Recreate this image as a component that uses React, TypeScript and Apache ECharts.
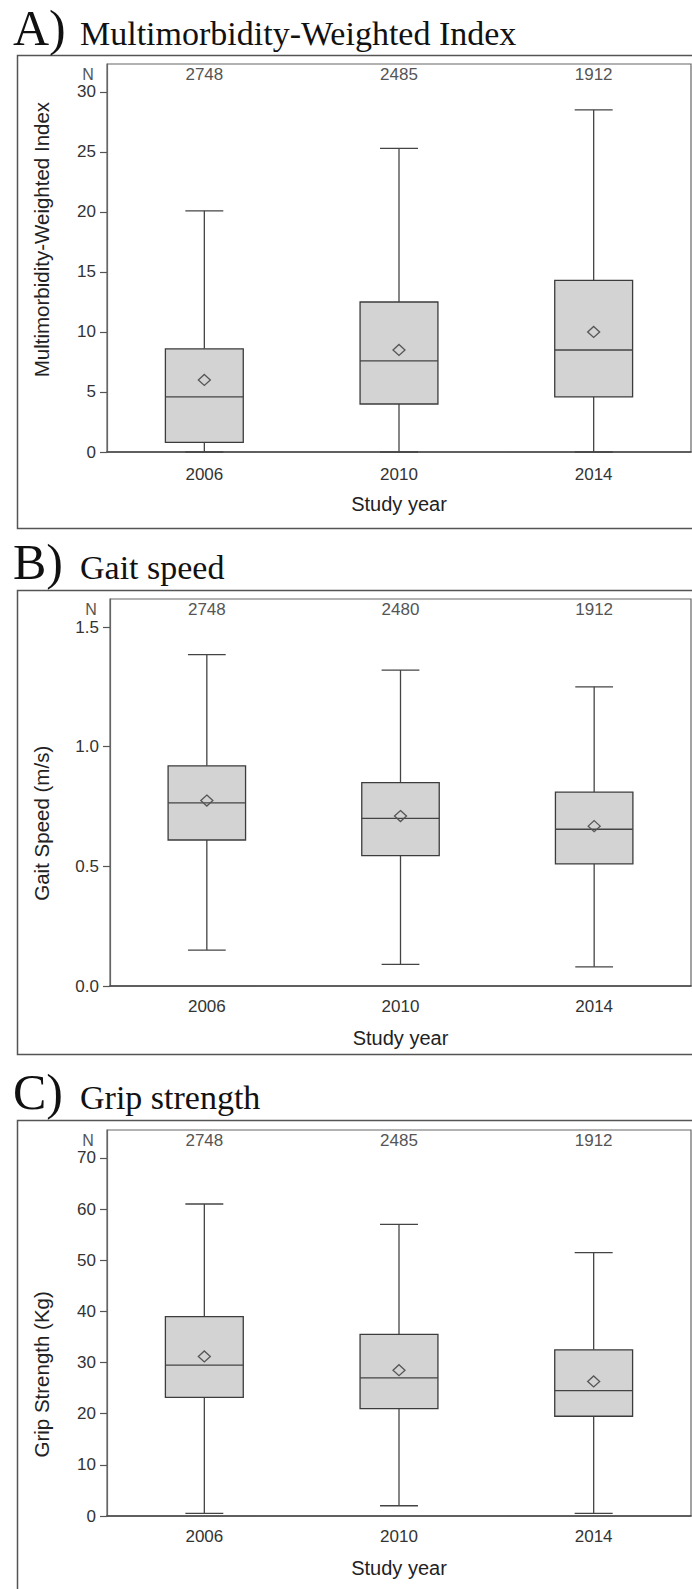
import React, { useEffect, useRef } from "react";
import * as echarts from "echarts";

const years = ["2006", "2010", "2014"];

// Panel A: Multimorbidity-Weighted Index
const mwiCounts = ["2748", "2485", "1912"];
const mwiMin = [0, 0, 0];
const mwiQ1 = [0.8, 4.0, 4.6];
const mwiMedian = [4.6, 7.6, 8.5];
const mwiQ3 = [8.6, 12.5, 14.3];
const mwiMax = [20.1, 25.3, 28.5];
const mwiMean = [6.0, 8.5, 10.0];
const mwiTicks = [0, 5, 10, 15, 20, 25, 30];

// Panel B: Gait speed
const gaitCounts = ["2748", "2480", "1912"];
const gaitMin = [0.15, 0.09, 0.08];
const gaitQ1 = [0.61, 0.545, 0.51];
const gaitMedian = [0.765, 0.7, 0.655];
const gaitQ3 = [0.92, 0.85, 0.81];
const gaitMax = [1.385, 1.32, 1.25];
const gaitMean = [0.775, 0.71, 0.668];
const gaitTicks = [0, 0.5, 1.0, 1.5];

// Panel C: Grip strength
const gripCounts = ["2748", "2485", "1912"];
const gripMin = [0.5, 2, 0.5];
const gripQ1 = [23.2, 21, 19.5];
const gripMedian = [29.5, 27, 24.5];
const gripQ3 = [39, 35.5, 32.5];
const gripMax = [61, 57, 51.5];
const gripMean = [31.2, 28.5, 26.3];
const gripTicks = [0, 10, 20, 30, 40, 50, 60, 70];

const SANS = "Liberation Sans, Arial, sans-serif";
const SERIF = "Liberation Serif, Times New Roman, serif";

function rows(mn: number[], q1: number[], md: number[], q3: number[], mx: number[], mean: number[]) {
  return years.map((_, i) => [i, mn[i], q1[i], md[i], q3[i], mx[i], mean[i]]);
}

function renderBox(params: any, api: any) {
  const i = api.value(0);
  const lo = api.coord([i, api.value(1)]);
  const q1 = api.coord([i, api.value(2)]);
  const md = api.coord([i, api.value(3)]);
  const q3 = api.coord([i, api.value(4)]);
  const hi = api.coord([i, api.value(5)]);
  const mean = api.coord([i, api.value(6)]);
  const band = api.size([1, 0])[0];
  const bw = band * 0.4;
  const cw = band * 0.195;
  const cx = lo[0];
  const ls = { stroke: "#444", lineWidth: 1.3 };
  return {
    type: "group",
    children: [
      { type: "line", shape: { x1: cx, y1: lo[1], x2: cx, y2: q1[1] }, style: ls },
      { type: "line", shape: { x1: cx, y1: q3[1], x2: cx, y2: hi[1] }, style: ls },
      { type: "line", shape: { x1: cx - cw / 2, y1: lo[1], x2: cx + cw / 2, y2: lo[1] }, style: ls },
      { type: "line", shape: { x1: cx - cw / 2, y1: hi[1], x2: cx + cw / 2, y2: hi[1] }, style: ls },
      {
        type: "rect",
        shape: { x: cx - bw / 2, y: q3[1], width: bw, height: q1[1] - q3[1] },
        style: { fill: "#d3d3d3", stroke: "#3c3c3c", lineWidth: 1.3 },
      },
      { type: "line", shape: { x1: cx - bw / 2, y1: md[1], x2: cx + bw / 2, y2: md[1] }, style: ls },
      {
        type: "polygon",
        shape: {
          points: [
            [cx, mean[1] - 5.5],
            [cx + 6, mean[1]],
            [cx, mean[1] + 5.5],
            [cx - 6, mean[1]],
          ],
        },
        style: { fill: "none", stroke: "#555", lineWidth: 1.3 },
      },
    ],
  };
}

const panels = [
  {
    letter: "A)", title: "Multimorbidity-Weighted Index", yName: "Multimorbidity-Weighted Index",
    counts: mwiCounts, data: rows(mwiMin, mwiQ1, mwiMedian, mwiQ3, mwiMax, mwiMean),
    ticks: mwiTicks, dec: 0, max: 32.33, nameCenter: 17.7,
    left: 107, top: 64, height: 388, titleBase: 45, boxTop: 53, boxH: 473, labelMargin: 14,
  },
  {
    letter: "B)", title: "Gait speed", yName: "Gait Speed (m/s)",
    counts: gaitCounts, data: rows(gaitMin, gaitQ1, gaitMedian, gaitQ3, gaitMax, gaitMean),
    ticks: gaitTicks, dec: 1, max: 1.617, nameCenter: 0.68,
    left: 110, top: 599, height: 387, titleBase: 579, boxTop: 588, boxH: 464, labelMargin: 12,
  },
  {
    letter: "C)", title: "Grip strength", yName: "Grip Strength (Kg)",
    counts: gripCounts, data: rows(gripMin, gripQ1, gripMedian, gripQ3, gripMax, gripMean),
    ticks: gripTicks, dec: 0, max: 75.47, nameCenter: 27.7,
    left: 107, top: 1130, height: 386, titleBase: 1109, boxTop: 1118, boxH: 540, labelMargin: 12,
  },
];

export default function App() {
  const ref = useRef<HTMLDivElement>(null);
  useEffect(() => {
    document.body.style.margin = "0";
    if (!ref.current) return;
    const chart = echarts.init(ref.current, null, { renderer: "svg" });
    const grid: any[] = [];
    const xAxis: any[] = [];
    const yAxis: any[] = [];
    const series: any[] = [];
    const graphic: any[] = [];
    panels.forEach((p, k) => {
      grid.push({
        left: p.left, top: p.top, right: 1, height: p.height,
        show: true, borderColor: "#666", borderWidth: 1.2, backgroundColor: "transparent",
      });
      xAxis.push({
        type: "category", gridIndex: k, data: years, position: "bottom",
        name: "Study year", nameLocation: "middle", nameGap: 42,
        nameTextStyle: { fontSize: 20, color: "#222", fontFamily: SANS },
        axisLine: { lineStyle: { color: "#444", width: 1.6 } },
        axisTick: { alignWithLabel: true, length: 7, lineStyle: { color: "#555", width: 1.2 } },
        axisLabel: { fontSize: 17, color: "#333", margin: p.labelMargin, fontFamily: SANS },
        splitLine: { show: false },
      });
      xAxis.push({
        type: "category", gridIndex: k, data: p.counts, position: "top",
        axisLine: { show: false }, axisTick: { show: false },
        axisLabel: { inside: true, fontSize: 17, color: "#555", margin: 2, fontFamily: SANS },
        splitLine: { show: false },
      });
      yAxis.push({
        type: "value", gridIndex: k, min: 0, max: p.max,
        axisLine: { show: true, lineStyle: { color: "#666", width: 1.2 } },
        axisTick: { show: true, length: 7, customValues: p.ticks, lineStyle: { color: "#555", width: 1.2 } },
        axisLabel: {
          customValues: p.ticks, fontSize: 17, color: "#333", margin: 11, fontFamily: SANS,
          formatter: (v: number) => v.toFixed(p.dec),
        },
        splitLine: { show: false },
      });
      series.push({
        type: "custom", xAxisIndex: 2 * k, yAxisIndex: k,
        renderItem: renderBox,
        encode: { x: 0, y: [1, 2, 3, 4, 5, 6] },
        data: p.data,
        silent: true,
      });
      const nameY = p.top + p.height - (p.nameCenter / p.max) * p.height;
      graphic.push({
        type: "text", x: 41, y: nameY, rotation: Math.PI / 2, silent: true,
        style: { text: p.yName, fontSize: 20.5, fontFamily: SANS, fill: "#222", align: "center", verticalAlign: "middle" },
      });
      graphic.push({
        type: "rect", left: 15, top: p.boxTop, silent: true,
        shape: { x: 0, y: 0, width: 720, height: p.boxH },
        style: { fill: "none", stroke: "#555", lineWidth: 1.5 },
      });
      graphic.push({
        type: "text", x: 13, y: p.titleBase - 17, silent: true,
        style: { text: p.letter, fontSize: 50, fontFamily: SERIF, fill: "#111", verticalAlign: "middle", align: "left" },
      });
      graphic.push({
        type: "text", x: 80, y: p.titleBase - 11.5, silent: true,
        style: { text: p.title, fontSize: 34, fontFamily: SERIF, fill: "#111", verticalAlign: "middle", align: "left" },
      });
      graphic.push({
        type: "text", x: p.left - 19, y: p.top + 10, silent: true,
        style: { text: "N", fontSize: 16, fontFamily: SANS, fill: "#555", verticalAlign: "middle", align: "center" },
      });
    });
    chart.setOption({
      animation: false,
      backgroundColor: "#fff",
      grid, xAxis, yAxis, series, graphic,
    });
    return () => chart.dispose();
  }, []);
  return <div ref={ref} style={{ width: 692, height: 1589 }} />;
}
